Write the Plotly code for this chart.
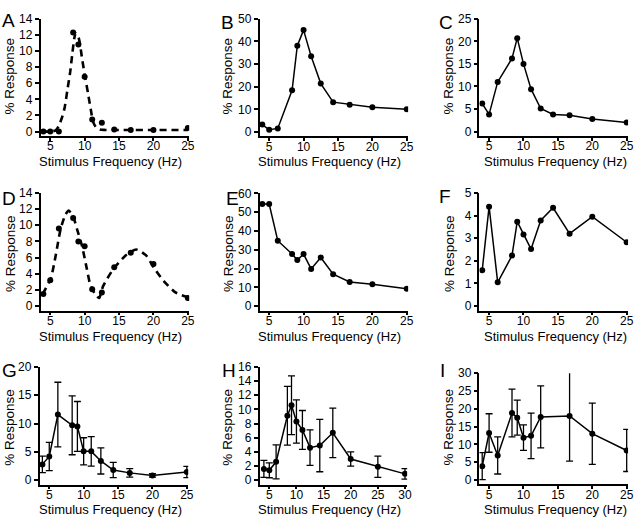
import plotly.graph_objects as go

W, H = 640, 521

# ---------------- data ----------------
freq = [4, 5, 6.25, 8.33, 9.09, 10, 11.1, 12.5, 14.3, 16.7, 20, 25]
freq_h = [4, 5, 6.25, 8.33, 9.09, 10, 11.1, 12.5, 14.3, 16.7, 20, 25, 30]
freq_i = [4, 5, 6.25, 8.33, 9.09, 10, 11.1, 12.5, 16.7, 20, 25]

a_resp = [0, 0, 0, 12.3, 10.8, 6.8, 1.5, 1.1, 0.25, 0.2, 0.2, 0.45]
a_fit_x = [3.7, 5.0, 5.8, 6.3, 6.8, 7.1, 7.5, 7.9, 8.2, 8.5, 8.7, 9.0, 9.3, 9.6, 10.0, 10.5, 10.9, 11.2, 11.6, 12.2, 13.0, 15, 20, 25]
a_fit_y = [0.0, 0.0, 0.15, 0.8, 2.0, 3.0, 5.2, 7.4, 9.6, 11.6, 12.2, 12.0, 11.0, 9.2, 7.1, 4.7, 2.7, 1.3, 0.6, 0.25, 0.2, 0.2, 0.2, 0.2]

b_resp = [3.3, 1.0, 1.6, 18.4, 38.1, 45.0, 33.5, 21.4, 13.2, 12.1, 10.9, 10.1]
c_resp = [6.2, 3.8, 11.0, 16.2, 20.7, 15.0, 9.4, 5.1, 3.8, 3.6, 2.8, 2.0]

d_resp = [1.5, 3.2, 9.6, 10.9, 8.0, 7.4, 2.1, 1.7, 4.8, 6.6, 5.2, 1.0]
d_fit_x = [3.9, 5.1, 5.8, 6.5, 7.2, 7.7, 8.4, 8.9, 9.6, 10.3, 10.8, 11.5, 12.1, 12.7, 14.1, 16.0, 17.5, 18.9, 20.1, 21.5, 23.2, 25]
d_fit_y = [1.5, 3.5, 6.3, 9.5, 11.3, 11.8, 10.9, 9.5, 7.5, 4.7, 2.7, 1.5, 1.0, 2.5, 4.5, 6.3, 7.0, 6.3, 4.7, 3.1, 1.7, 1.1]

e_resp = [54.3, 54.3, 34.8, 27.7, 24.5, 27.7, 19.8, 25.9, 17.0, 12.9, 11.7, 9.2]
f_resp = [1.58, 4.39, 1.05, 2.23, 3.73, 3.16, 2.52, 3.78, 4.34, 3.2, 3.95, 2.82]

g_resp = [2.8, 4.2, 11.6, 9.7, 9.5, 5.1, 5.1, 3.4, 1.8, 1.3, 0.85, 1.45]
g_err = [1.45, 2.5, 5.7, 5.2, 4.4, 2.4, 2.6, 2.3, 1.35, 0.75, 0.3, 1.0]

h_resp = [1.6, 1.4, 2.6, 9.1, 10.6, 8.3, 7.1, 4.6, 4.9, 6.7, 3.0, 1.9, 0.9]
h_err = [1.2, 1.05, 2.4, 4.15, 4.15, 3.05, 2.75, 2.5, 3.7, 3.5, 1.0, 1.5, 0.75]

i_resp = [3.9, 13.2, 6.9, 18.8, 17.5, 11.9, 12.4, 17.7, 18.0, 13.0, 8.3]
i_err = [3.8, 5.4, 5.2, 6.7, 4.9, 3.6, 6.4, 8.7, 12.7, 8.6, 5.9]

x_ticks = [5, 10, 15, 20, 25]
x_ticks_h = [5, 10, 15, 20, 25, 30]

FONT = "Liberation Sans, Arial, Helvetica, sans-serif"

# panel geometry: letter, column x0 px, top px (max tick), zero px, ymax, ydtick
panels = [
    dict(L="A", x0=41, top=12, zero=127, ymax=14, dt=2),
    dict(L="B", x0=262, top=12, zero=127.5, ymax=50, dt=10),
    dict(L="C", x0=484, top=12, zero=127, ymax=25, dt=5),
    dict(L="D", x0=41, top=189.5, zero=305, ymax=14, dt=2),
    dict(L="E", x0=262, top=190, zero=305, ymax=60, dt=10),
    dict(L="F", x0=484, top=189.5, zero=305, ymax=5, dt=1),
    dict(L="G", x0=40, top=367, zero=482.5, ymax=20, dt=5),
    dict(L="H", x0=262, top=367, zero=482.5, ymax=16, dt=2),
    dict(L="I", x0=484, top=373.3, zero=482.3, ymax=30, dt=5),
]
letter_pos = [(0, 1), (221, 3), (441, 3), (0, 183), (226, 183), (441, 180), (0, 358), (222, 358), (442, 358)]
ytitle_x = [10, 230, 453]
ytitle_y = [70, 251, 428]
xtitle_x = [112, 333, 561]
xtitle_y = [158, 335.5, 512.5]

fig = go.Figure()
layout = dict(
    width=W, height=H, margin=dict(l=0, r=0, t=0, b=0),
    paper_bgcolor="white", plot_bgcolor="white", showlegend=False,
    font=dict(family=FONT, color="black", size=12),
)
annotations = []

marker = dict(color="black", size=6)
line = dict(color="black", width=1.5)
dash_line = dict(color="black", width=2.6, dash="7px,5px", shape="spline", smoothing=0.6)

for k, p in enumerate(panels):
    n = "" if k == 0 else str(k + 1)
    xa, ya = "x" + n, "y" + n
    col = k % 3
    row = k // 3
    s = (p["zero"] - p["top"]) / p["ymax"]
    bottom = p["zero"] + 4.5
    ymin = -4.5 / s
    if p["L"] == "H":
        xr = [3.2, 30.4]
        xw = 149
        xt = x_ticks_h
    else:
        xr = [3.6, 25.2]
        xw = 150
        xt = x_ticks
    axis_common = dict(showline=True, linecolor="black", linewidth=1.5, ticks="outside",
                       tickwidth=1.5, tickcolor="black", showgrid=False,
                       zeroline=False, tickfont=dict(family=FONT, size=12, color="black"))
    layout["xaxis" + n] = dict(domain=[p["x0"] / W, (p["x0"] + xw) / W], range=xr, ticklen=3,
                               ticklabelstandoff=-5,
                               anchor=ya, tickvals=xt, **axis_common)
    layout["yaxis" + n] = dict(domain=[1 - bottom / H, 1 - p["top"] / H], range=[ymin, p["ymax"]],
                               anchor=xa, tickmode="linear", tick0=0, dtick=p["dt"], ticklen=4,
                               **axis_common)

    L = p["L"]
    if L == "A":
        fig.add_trace(go.Scatter(x=a_fit_x, y=a_fit_y, mode="lines", line=dash_line, xaxis=xa, yaxis=ya))
        fig.add_trace(go.Scatter(x=freq, y=a_resp, mode="markers", marker=marker, xaxis=xa, yaxis=ya))
    elif L == "D":
        fig.add_trace(go.Scatter(x=d_fit_x, y=d_fit_y, mode="lines", line=dash_line, xaxis=xa, yaxis=ya))
        fig.add_trace(go.Scatter(x=freq, y=d_resp, mode="markers", marker=marker, xaxis=xa, yaxis=ya))
    elif L in "BCEF":
        yv = {"B": b_resp, "C": c_resp, "E": e_resp, "F": f_resp}[L]
        fig.add_trace(go.Scatter(x=freq, y=yv, mode="lines+markers", marker=marker, line=line,
                                 xaxis=xa, yaxis=ya))
    else:
        xv, yv, ev = {"G": (freq, g_resp, g_err), "H": (freq_h, h_resp, h_err),
                      "I": (freq_i, i_resp, i_err)}[L]
        fig.add_trace(go.Scatter(x=xv, y=yv, mode="lines+markers", marker=marker, line=line,
                                 error_y=dict(type="data", array=ev, visible=True, color="black",
                                              thickness=1.3, width=3.5),
                                 xaxis=xa, yaxis=ya))

    lx, ly = letter_pos[k]
    annotations.append(dict(text=L, x=lx / W, y=1 - ly / H, xref="paper", yref="paper",
                            xanchor="left", yanchor="top", showarrow=False,
                            font=dict(family=FONT, size=19, color="black")))
    annotations.append(dict(text="% Response", x=ytitle_x[col] / W, y=1 - ytitle_y[row] / H,
                            xref="paper", yref="paper", xanchor="center", yanchor="middle",
                            textangle=-90, showarrow=False,
                            font=dict(family=FONT, size=13.5, color="black")))
    annotations.append(dict(text="Stimulus Frequency (Hz)", x=xtitle_x[col] / W, y=1 - xtitle_y[row] / H,
                            xref="paper", yref="paper", xanchor="center", yanchor="middle",
                            showarrow=False, font=dict(family=FONT, size=13, color="black")))

layout["annotations"] = annotations
fig.update_layout(**layout)
fig.write_html("out.html", config={"displayModeBar": False},
               post_script="document.body.style.margin='0';document.body.style.overflow='hidden';")
